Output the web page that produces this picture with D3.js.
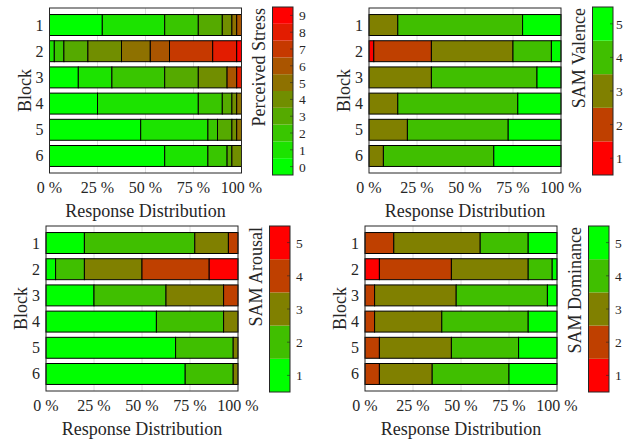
<!DOCTYPE html>
<html>
<head>
<meta charset="utf-8">
<script src="https://cdn.jsdelivr.net/npm/d3@7"></script>
<style>
  body { margin: 0; background: #fff; }
  text { font-family: "Liberation Serif", "Times New Roman", serif; fill: #262626; }
</style>
</head>
<body>
<script>
let blocks = [1, 2, 3, 4, 5, 6];
let xTicks = [0, 25, 50, 75, 100];

// percent of responses per block, one column per rating level
let stressLevels = [0, 1, 2, 3, 4, 5, 6, 7, 8, 9];
let stress = [
  [27.5, 32.5, 17.5, 12.5, 5, 2.5, 2.5, 0, 0, 0],
  [0, 2.5, 5, 12.5, 17.5, 15, 10, 22.5, 12.5, 2.5],
  [15, 17.5, 27.5, 17.5, 15, 0, 5, 0, 2.5, 0],
  [25, 52.5, 12.5, 5, 2.5, 2.5, 0, 0, 0, 0],
  [47.5, 35, 5, 7.5, 2.5, 2.5, 0, 0, 0, 0],
  [60, 22.5, 10, 2.5, 5, 0, 0, 0, 0, 0]
];

let samLevels = [1, 2, 3, 4, 5];
let valence = [
  [0, 0, 15, 65, 20],
  [2.5, 30, 42.5, 20, 5],
  [0, 0, 32.5, 55, 12.5],
  [0, 0, 15, 62.5, 22.5],
  [0, 0, 20, 52.5, 27.5],
  [0, 0, 7.5, 57.5, 35]
];
let arousal = [
  [20, 57.5, 17.5, 5, 0],
  [5, 15, 30, 35, 15],
  [25, 37.5, 30, 7.5, 0],
  [57.5, 35, 7.5, 0, 0],
  [67.5, 30, 2.5, 0, 0],
  [72.5, 25, 2.5, 0, 0]
];
let dominance = [
  [0, 15, 45, 25, 15],
  [7.5, 37.5, 40, 12.5, 2.5],
  [0, 5, 42.5, 47.5, 5],
  [0, 5, 35, 45, 15],
  [0, 7.5, 37.5, 35, 20],
  [0, 7.5, 27.5, 40, 25]
];

let svg = d3.select('body')
  .append('svg')
  .attr('width', 623)
  .attr('height', 439);

// green -> red ramp
function ramp(t) {
  return d3.rgb(Math.round(255 * t), Math.round(255 * (1 - t)), 0);
}

drawPanel({ data: stress, levels: stressLevels, redHigh: true, label: 'Perceived Stress',
  x0: 49.5, x1: 241.5, y0: 8, y1: 173, cbx: 272.5, cby0: 7, cby1: 175 });
drawPanel({ data: valence, levels: samLevels, redHigh: false, label: 'SAM Valence',
  x0: 369, x1: 561, y0: 8, y1: 173, cbx: 592.5, cby0: 7, cby1: 175 });
drawPanel({ data: arousal, levels: samLevels, redHigh: true, label: 'SAM Arousal',
  x0: 46, x1: 238, y0: 226, y1: 391, cbx: 269.5, cby0: 226, cby1: 392 });
drawPanel({ data: dominance, levels: samLevels, redHigh: false, label: 'SAM Dominance',
  x0: 365, x1: 557, y0: 226, y1: 391, cbx: 588.5, cby0: 226, cby1: 392 });


function drawPanel(p) {
  let n = p.levels.length;
  let color = i => p.redHigh ? ramp(i / (n - 1)) : ramp(1 - i / (n - 1));

  let x = d3.scaleLinear().domain([0, 100]).range([p.x0, p.x1]);
  let y = d3.scaleLinear().domain([0.35, 6.65]).range([p.y0, p.y1]);
  let g = svg.append('g');

  // grid
  g.selectAll('.grid').data(xTicks.slice(1, -1))
    .enter().append('line')
    .attr('x1', d => x(d)).attr('x2', d => x(d))
    .attr('y1', p.y0).attr('y2', p.y1)
    .attr('stroke', '#dedede').attr('stroke-width', 1);

  // stacked segments
  let segs = [];
  p.data.forEach((row, r) => {
    let acc = 0;
    row.forEach((v, i) => {
      if (v > 0) segs.push({ block: blocks[r], start: acc, end: acc + v, level: i });
      acc += v;
    });
  });
  let bh = y(0.8) - y(0);
  g.selectAll('rect.seg').data(segs)
    .enter().append('rect')
    .attr('x', d => x(d.start))
    .attr('y', d => y(d.block) - bh / 2)
    .attr('width', d => x(d.end) - x(d.start))
    .attr('height', bh)
    .attr('fill', d => color(d.level))
    .attr('stroke', '#000')
    .attr('stroke-width', 1);

  // box
  g.append('rect')
    .attr('x', p.x0).attr('y', p.y0)
    .attr('width', p.x1 - p.x0).attr('height', p.y1 - p.y0)
    .attr('fill', 'none').attr('stroke', '#262626').attr('stroke-width', 1);

  // x ticks
  g.selectAll('.xt').data(xTicks)
    .enter().append('text')
    .attr('x', d => x(d))
    .attr('y', p.y1 + 20)
    .attr('text-anchor', 'middle')
    .style('font-size', '16px')
    .text(d => d + ' %');
  g.append('text')
    .attr('x', (p.x0 + p.x1) / 2)
    .attr('y', p.y1 + 44)
    .attr('text-anchor', 'middle')
    .style('font-size', '18px')
    .text('Response Distribution');

  // y ticks
  g.selectAll('.yt').data(blocks)
    .enter().append('text')
    .attr('x', p.x0 - 6)
    .attr('y', d => y(d) + 5.5)
    .attr('text-anchor', 'end')
    .style('font-size', '16px')
    .text(d => d);
  g.append('text')
    .attr('transform', `translate(${p.x0 - 19},${(p.y0 + p.y1) / 2}) rotate(-90)`)
    .attr('text-anchor', 'middle')
    .style('font-size', '18px')
    .text('Block');

  // colorbar
  let cbw = 20.5;
  let cy = d3.scaleLinear().domain([-0.5, n - 0.5]).range([p.cby1, p.cby0]);
  g.selectAll('rect.cb').data(d3.range(n))
    .enter().append('rect')
    .attr('x', p.cbx)
    .attr('y', d => cy(d + 0.5))
    .attr('width', cbw)
    .attr('height', d => cy(d - 0.5) - cy(d + 0.5))
    .attr('fill', d => color(d));
  g.selectAll('.cbt').data(d3.range(n))
    .enter().append('line')
    .attr('x1', p.cbx + cbw - 3).attr('x2', p.cbx + cbw)
    .attr('y1', d => cy(d)).attr('y2', d => cy(d))
    .attr('stroke', '#262626').attr('stroke-width', 0.6);
  g.append('rect')
    .attr('x', p.cbx).attr('y', p.cby0)
    .attr('width', cbw).attr('height', p.cby1 - p.cby0)
    .attr('fill', 'none').attr('stroke', '#262626').attr('stroke-width', 1);
  g.selectAll('.cbl').data(d3.range(n))
    .enter().append('text')
    .attr('x', Math.min(p.cbx + cbw + 6, 616))
    .attr('y', d => cy(d) + 5)
    .style('font-size', '13.5px')
    .text(d => p.levels[d]);
  g.append('text')
    .attr('transform', `translate(${p.cbx - 7.5},${p.cby0 + 1}) rotate(-90)`)
    .attr('text-anchor', 'end')
    .style('font-size', '18px')
    .text(p.label);
}
</script>
</body>
</html>
